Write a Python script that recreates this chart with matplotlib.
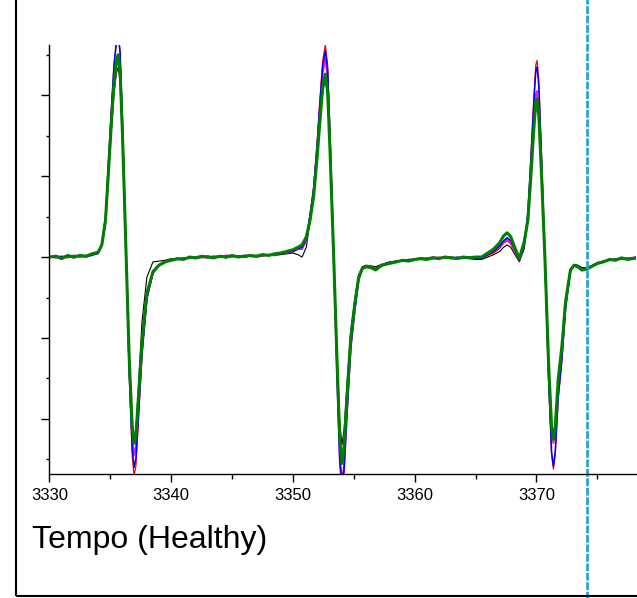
"""EPR spectrum of Tempo (healthy) - five overlaid traces."""

import matplotlib.pyplot as plt
from matplotlib.patches import Rectangle
from matplotlib.ticker import MultipleLocator

plt.rcParams.update({'font.family': ['Liberation Sans', 'DejaVu Sans'], 'axes.linewidth': 1.0})

# magnetic field (G), shared by all traces
field = [
    3330.0, 3330.5, 3331.0, 3331.5, 3332.0, 3332.5, 3333.0, 3333.5, 3334.0,
    3334.3, 3334.6, 3334.9, 3335.1, 3335.3, 3335.5, 3335.65, 3335.8, 3336.0, 3336.3,
    3336.55, 3336.8, 3336.95, 3337.1, 3337.3, 3337.6, 3338.0, 3338.5, 3339.0, 3339.5,
    3340.0, 3340.5, 3341.0, 3341.5, 3342.0, 3342.5, 3343.0, 3343.5, 3344.0, 3344.5,
    3345.0, 3345.5, 3346.0, 3346.5, 3347.0, 3347.5, 3348.0, 3348.5, 3349.0, 3349.5,
    3350.0, 3350.4, 3350.75, 3351.1,
    3351.4, 3351.7, 3352.0, 3352.2, 3352.45, 3352.66, 3352.85, 3353.05, 3353.35,
    3353.65, 3353.85, 3354.03, 3354.2, 3354.45, 3354.75, 3355.1, 3355.4, 3355.7,
    3356.0, 3356.4, 3356.8, 3357.3, 3357.9,
    3358.5, 3359.0, 3359.5, 3360.0, 3360.5, 3361.0, 3361.5, 3362.0, 3362.5, 3363.0,
    3363.5, 3364.0, 3364.5, 3365.0,
    3365.5, 3366.0, 3366.5, 3367.0, 3367.3, 3367.6, 3367.9, 3368.2, 3368.6,
    3369.0, 3369.3, 3369.55, 3369.8, 3369.95, 3370.06, 3370.2, 3370.4, 3370.7,
    3371.0, 3371.25, 3371.4, 3371.55, 3371.8, 3372.1, 3372.4, 3372.8,
    3373.1, 3373.4, 3373.75, 3374.1, 3374.5, 3375.0, 3375.5, 3376.0, 3376.5, 3377.0, 3377.5, 3378.2,
]

black = [
    0.0, 0.0, -0.01, 0.01, 0.0, 0.01, 0.01, 0.03, 0.04,
    0.14, 0.42, 1.13, 1.6, 2.02, 2.27, 2.35, 2.16, 1.41, 0.0,
    -1.22, -2.05, -2.25, -2.15, -1.6, -0.8, -0.25, -0.06, -0.05, -0.04,
    -0.02, -0.02, -0.01, -0.01, 0.0, 0.0, 0.0, 0.01, 0.0, 0.0,
    0.01, 0.01, 0.0, 0.01, 0.01, 0.02, 0.02, 0.02, 0.03, 0.04,
    0.05, 0.03, 0.0, 0.12,
    0.44, 0.73, 1.22, 1.61, 2.04, 2.2, 2.0, 1.27, 0.0,
    -1.27, -2.05, -2.32, -2.14, -1.55, -0.91, -0.5, -0.22, -0.12,
    -0.1, -0.11, -0.12, -0.09, -0.06,
    -0.05, -0.04, -0.04, -0.03, -0.03, -0.02, -0.02, -0.01, -0.01, -0.01,
    -0.02, -0.01, -0.02, -0.03,
    -0.03, 0.0, 0.03, 0.07, 0.12, 0.15, 0.12, 0.04, -0.06,
    0.1, 0.44, 1.05, 1.68, 2.0, 2.05, 1.84, 1.16, 0.0,
    -1.3, -2.1, -2.25, -2.1, -1.5, -1.1, -0.55, -0.15,
    -0.09, -0.1, -0.13, -0.13, -0.11, -0.08, -0.06, -0.04, -0.03, -0.03, -0.02, -0.02,
]

red = [
    -0.01, 0.02, 0.0, -0.01, 0.01, 0.0, 0.02, 0.03, 0.05,
    0.16, 0.5, 1.32, 1.87, 2.37, 2.66, 2.75, 2.53, 1.65, 0.0,
    -1.47, -2.47, -2.7, -2.58, -2.05, -1.23, -0.53, -0.2, -0.1, -0.05,
    -0.03, -0.03, -0.01, -0.02, 0.0, -0.01, 0.01, 0.0, 0.0, 0.01,
    0.0, 0.02, 0.0, 0.01, 0.02, 0.01, 0.03, 0.03, 0.04, 0.05,
    0.06, 0.1, 0.12, 0.22,
    0.52, 0.86, 1.45, 1.91, 2.43, 2.62, 2.38, 1.51, 0.0,
    -1.51, -2.43, -2.75, -2.54, -1.83, -1.08, -0.6, -0.27, -0.15,
    -0.12, -0.14, -0.15, -0.11, -0.07,
    -0.05, -0.05, -0.04, -0.02, -0.03, -0.01, -0.02, 0.0, -0.02, 0.0,
    -0.01, -0.02, 0.0, -0.01,
    -0.02, 0.02, 0.05, 0.11, 0.17, 0.2, 0.16, 0.07, -0.05,
    0.15, 0.5, 1.25, 1.99, 2.37, 2.43, 2.18, 1.37, 0.0,
    -1.51, -2.44, -2.62, -2.44, -1.75, -1.28, -0.64, -0.18,
    -0.11, -0.13, -0.17, -0.15, -0.11, -0.09, -0.05, -0.04, -0.02, -0.03, -0.01, -0.02,
]

magenta = [
    0.01, -0.01, 0.01, 0.0, 0.02, 0.01, 0.0, 0.03, 0.06,
    0.15, 0.44, 1.18, 1.67, 2.1, 2.37, 2.45, 2.25, 1.47, 0.0,
    -1.33, -2.24, -2.45, -2.34, -1.86, -1.12, -0.48, -0.2, -0.1, -0.06,
    -0.04, -0.02, -0.02, -0.01, 0.0, 0.0, -0.01, 0.01, 0.0, 0.02,
    0.01, 0.0, 0.02, 0.01, 0.0, 0.02, 0.03, 0.02, 0.05, 0.06,
    0.07, 0.1, 0.1, 0.2,
    0.49, 0.81, 1.35, 1.79, 2.28, 2.45, 2.22, 1.41, 0.0,
    -1.56, -2.51, -2.85, -2.63, -1.9, -1.12, -0.63, -0.28, -0.15,
    -0.11, -0.12, -0.15, -0.1, -0.08,
    -0.06, -0.04, -0.04, -0.03, -0.01, -0.02, 0.0, -0.01, -0.01, 0.0,
    -0.02, -0.01, 0.0, -0.01,
    -0.01, 0.04, 0.07, 0.13, 0.19, 0.22, 0.18, 0.09, -0.04,
    0.16, 0.47, 1.05, 1.68, 2.0, 2.05, 1.84, 1.16, 0.0,
    -1.33, -2.15, -2.3, -2.15, -1.53, -1.12, -0.56, -0.16,
    -0.1, -0.12, -0.15, -0.14, -0.12, -0.07, -0.06, -0.03, -0.03, -0.02, -0.02, 0.0,
]

blue = [
    0.0, 0.01, 0.0, 0.01, -0.01, 0.02, 0.01, 0.02, 0.05,
    0.16, 0.5, 1.32, 1.87, 2.37, 2.66, 2.75, 2.53, 1.65, 0.0,
    -1.41, -2.37, -2.6, -2.49, -1.98, -1.19, -0.51, -0.19, -0.1, -0.06,
    -0.03, -0.03, -0.02, 0.0, -0.02, 0.0, 0.01, 0.0, 0.01, -0.01,
    0.01, 0.01, 0.0, 0.02, 0.01, 0.02, 0.02, 0.03, 0.04, 0.06,
    0.07, 0.1, 0.12, 0.22,
    0.51, 0.84, 1.41, 1.86, 2.37, 2.55, 2.31, 1.47, 0.0,
    -1.56, -2.51, -2.85, -2.63, -1.9, -1.12, -0.63, -0.28, -0.15,
    -0.12, -0.13, -0.14, -0.11, -0.07,
    -0.05, -0.05, -0.03, -0.03, -0.02, -0.02, -0.01, -0.01, 0.0, -0.02,
    0.0, -0.01, -0.01, -0.02,
    -0.02, 0.03, 0.07, 0.14, 0.2, 0.24, 0.2, 0.1, -0.04,
    0.16, 0.54, 1.21, 1.93, 2.29, 2.35, 2.11, 1.33, 0.0,
    -1.49, -2.41, -2.58, -2.41, -1.72, -1.26, -0.63, -0.17,
    -0.11, -0.12, -0.16, -0.15, -0.11, -0.08, -0.05, -0.04, -0.03, -0.01, -0.02, -0.01,
]

green = [
    0.0, 0.01, -0.02, 0.02, 0.0, 0.02, 0.01, 0.04, 0.06,
    0.15, 0.45, 1.2, 1.7, 2.15, 2.42, 2.5, 2.3, 1.5, 0.0,
    -1.25, -2.1, -2.3, -2.2, -1.75, -1.05, -0.45, -0.18, -0.1, -0.06,
    -0.04, -0.02, -0.03, 0.0, -0.01, 0.01, 0.0, -0.01, 0.01, 0.0,
    0.02, 0.0, 0.01, 0.02, 0.01, 0.03, 0.02, 0.04, 0.05, 0.07,
    0.09, 0.12, 0.15, 0.25,
    0.45, 0.75, 1.25, 1.65, 2.1, 2.26, 2.05, 1.3, 0.0,
    -1.4, -2.25, -2.55, -2.35, -1.7, -1.0, -0.56, -0.25, -0.14,
    -0.12, -0.13, -0.16, -0.1, -0.08,
    -0.06, -0.04, -0.05, -0.03, -0.02, -0.03, -0.01, -0.02, 0.0, -0.01,
    -0.02, 0.0, -0.01, 0.0,
    0.0, 0.05, 0.1, 0.18, 0.26, 0.3, 0.25, 0.13, -0.02,
    0.19, 0.45, 1.0, 1.6, 1.9, 1.95, 1.75, 1.1, 0.0,
    -1.3, -2.1, -2.25, -2.1, -1.5, -1.1, -0.55, -0.16,
    -0.1, -0.12, -0.16, -0.15, -0.12, -0.08, -0.06, -0.03, -0.04, -0.01, -0.03, -0.01,
]

marker_field = 3374.2
x_ticks = [3330, 3340, 3350, 3360, 3370]
title = 'Tempo (Healthy)'

fig = plt.figure(figsize=(6.37, 5.98), dpi=100)
ax = fig.add_axes([0.0777, 0.2074, 0.921, 0.7174])

ax.plot(field, black, color='black', lw=0.8)
ax.plot(field, red, color='red', lw=0.9)
ax.plot(field, magenta, color='#e619e6', lw=1.4)
ax.plot(field, blue, color='blue', lw=1.1)
ax.plot(field, green, color='green', lw=2.2)

ax.axvline(marker_field, ymin=-0.3, ymax=1.11, clip_on=False, color='#2aa5c8', lw=2.0,
           linestyle=(0, (2.8, 0.6)))

ax.set_xlim(3330, 3378.2)
ax.set_ylim(-2.68, 2.62)
ax.set_xticks(x_ticks)
ax.xaxis.set_minor_locator(MultipleLocator(5))
ax.yaxis.set_major_locator(MultipleLocator(1))
ax.yaxis.set_minor_locator(MultipleLocator(0.5))
ax.set_yticklabels([])
ax.tick_params(axis='x', which='major', length=5.8, width=1.0, labelsize=12, pad=4)
ax.tick_params(axis='x', which='minor', length=3.6, width=1.0)
ax.tick_params(axis='y', which='major', length=5.5, width=1.0)
ax.tick_params(axis='y', which='minor', length=2.4, width=1.0)
ax.spines['top'].set_visible(False)
ax.spines['right'].set_visible(False)

fig.text(32 / 637, 1 - 548 / 598, title, fontsize=23, va='baseline', ha='left')

# panel frame (left and bottom edges fall inside the picture)
fig.patches.append(Rectangle((16 / 637, 2 / 598), 1.2, 1.2, transform=fig.transFigure,
                             fill=False, edgecolor='black', lw=1.5))

fig.savefig('out.png', dpi=100)
